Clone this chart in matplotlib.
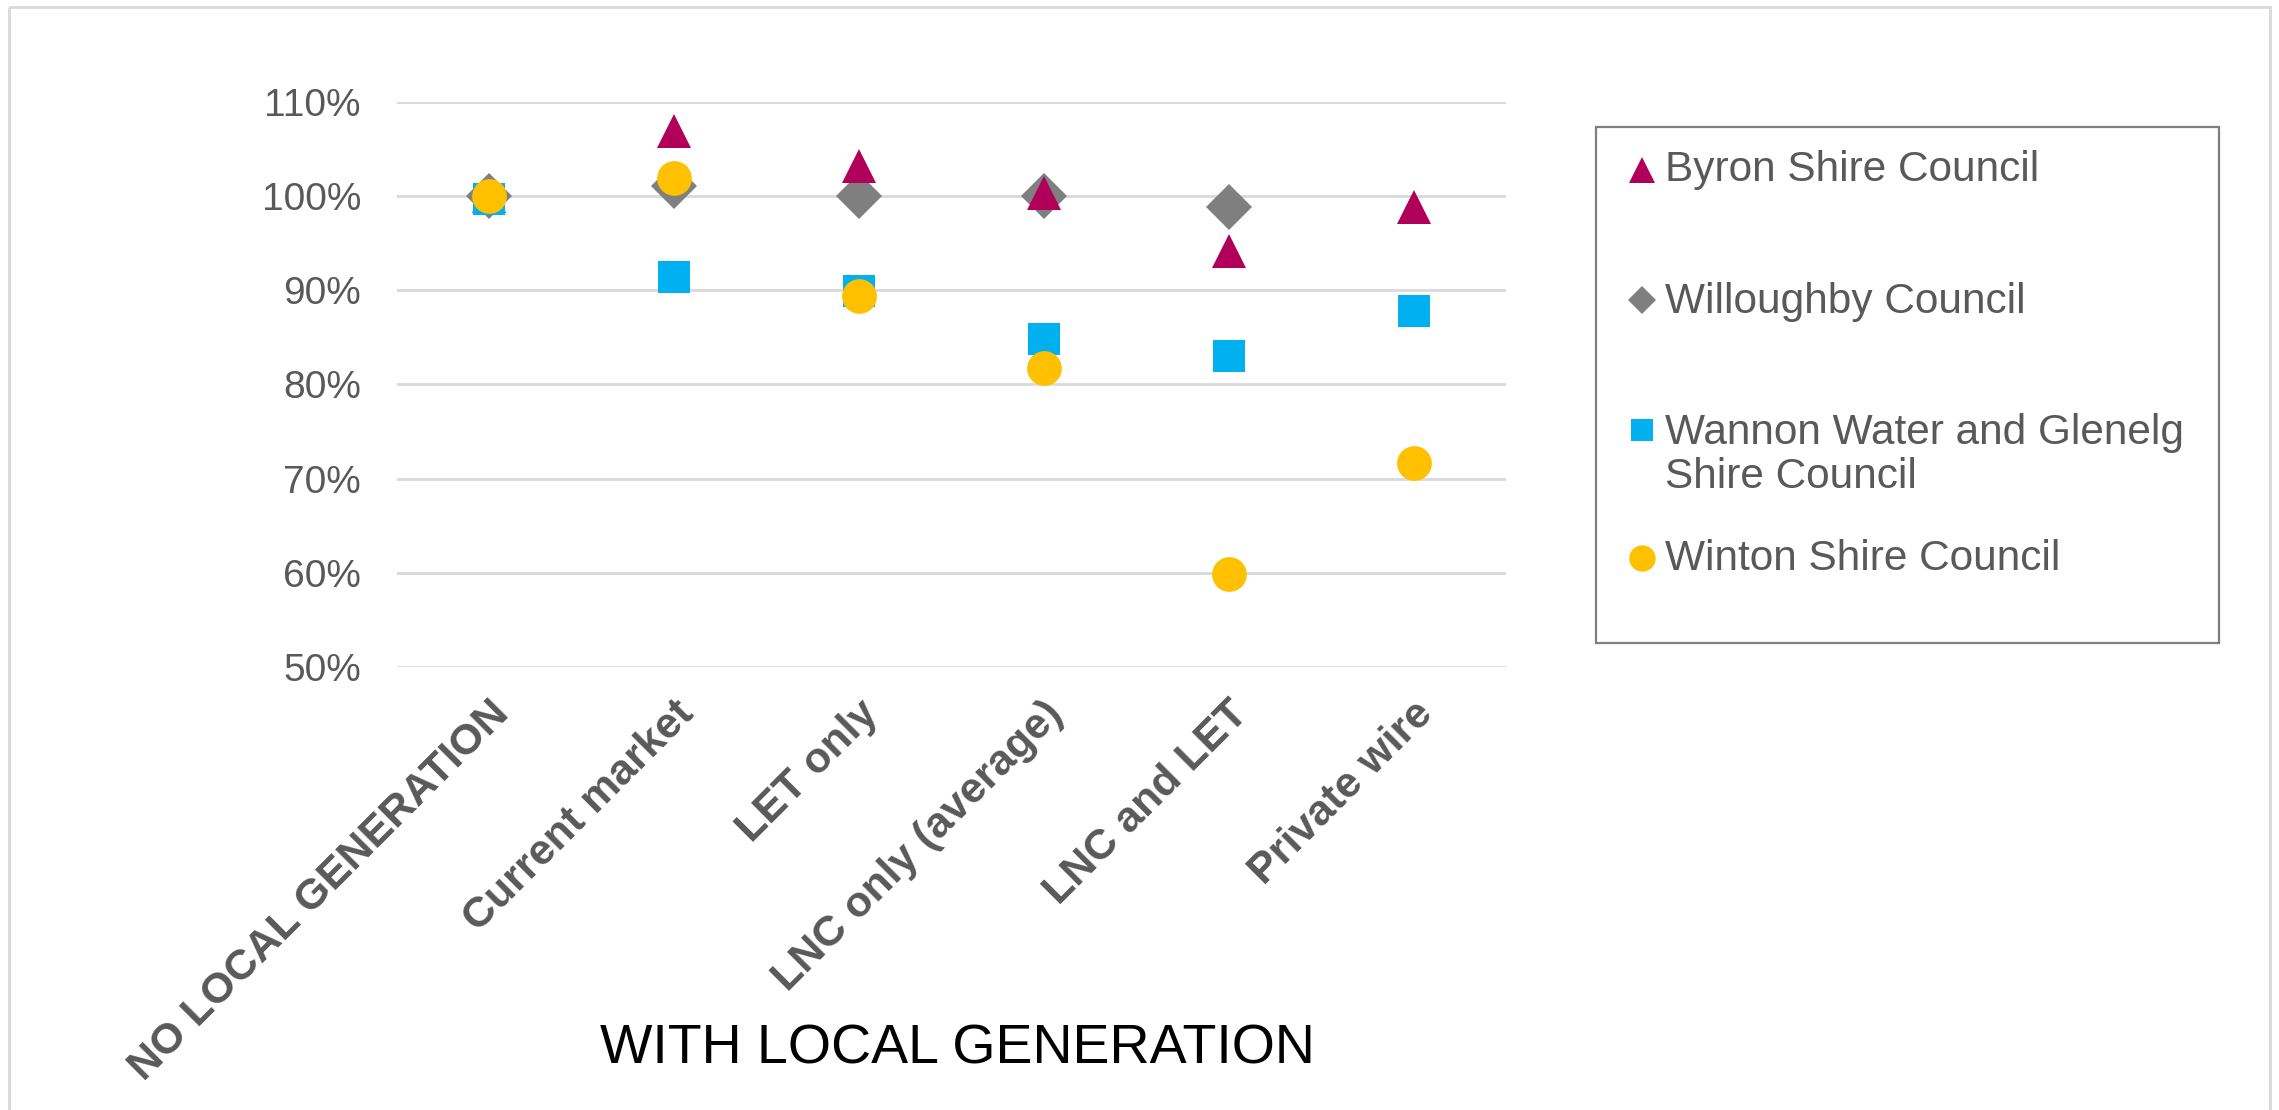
import numpy as np
import matplotlib
matplotlib.use("Agg")
import matplotlib.pyplot as plt
from matplotlib.patches import Rectangle
from matplotlib.transforms import ScaledTranslation

plt.rcParams['font.family'] = ['Liberation Sans', 'DejaVu Sans']

# ---- data -------------------------------------------------------------
categories = ["NO LOCAL GENERATION", "Current market", "LET only",
              "LNC only (average)", "LNC and LET", "Private wire"]

byron = [1.000, 1.070, 1.032, 1.004, 0.942, 0.989]
willoughby = [1.000, 1.011, 1.000, 1.000, 0.989, np.nan]
wannon = [0.997, 0.914, 0.899, 0.848, 0.830, 0.878]
winton = [1.001, 1.020, 0.894, 0.818, 0.598, 0.716]

series_names = ["Byron Shire Council", "Willoughby Council",
                "Wannon Water and Glenelg\nShire Council", "Winton Shire Council"]

yticks = [0.5, 0.6, 0.7, 0.8, 0.9, 1.0, 1.1]
ytick_labels = ["50%", "60%", "70%", "80%", "90%", "100%", "110%"]
x_title = "WITH LOCAL GENERATION"

# ---- styles -----------------------------------------------------------
GREY_TXT = "#595959"
GRID = "#d9d9d9"
styles = {
    "byron": dict(marker="^", ms=25, color="#b0005a"),
    "willoughby": dict(marker="D", ms=23, color="#7f7f7f"),
    "wannon": dict(marker="s", ms=23, color="#00b0f0"),
    "winton": dict(marker="o", ms=25, color="#ffc000"),
}

W, H = 2279, 1110
fig = plt.figure(figsize=(W / 100, H / 100), dpi=100)
fig.patch.set_facecolor("white")

# plot area
ax = fig.add_axes([397 / W, 1 - 667 / H, (1506 - 397) / W, (667 - 102) / H])
xpos = np.arange(len(categories))
ax.set_xlim(-0.5, len(categories) - 0.5)
ax.set_ylim(0.4995, 1.1005)
for sp in ax.spines.values():
    sp.set_visible(False)

ax.set_yticks(yticks)
ax.set_yticklabels(ytick_labels)
ax.yaxis.grid(True, color=GRID, lw=2.0)
ax.set_axisbelow(True)
ax.tick_params(axis="y", length=0, pad=26, labelsize=28, labelcolor=GREY_TXT)

ax.set_xticks(xpos)
ax.set_xticklabels(categories, rotation=45, ha="right", va="top",
                   rotation_mode="anchor", fontsize=31, fontweight="bold",
                   color=GREY_TXT)
ax.tick_params(axis="x", length=0, pad=19)
shift = ScaledTranslation(-1 / 100, 0, fig.dpi_scale_trans)
for lbl in ax.get_xticklabels():
    lbl.set_transform(lbl.get_transform() + shift)

# series (drawing order keeps the diamonds beneath the other markers)
order = [("willoughby", willoughby, 2), ("byron", byron, 3),
         ("wannon", wannon, 4), ("winton", winton, 5)]
for key, vals, z in order:
    st = styles[key]
    ax.plot(xpos, vals, linestyle="none", marker=st["marker"], ms=st["ms"],
            color=st["color"], mew=0, clip_on=False, zorder=z)

# ---- overlay in pixel coordinates for legend, title and frame ----------
ov = fig.add_axes([0, 0, 1, 1], zorder=10)
ov.set_xlim(0, W)
ov.set_ylim(H, 0)
ov.axis("off")
ov.patch.set_alpha(0)

# outer chart border
ov.add_patch(Rectangle((9, 7), W - 18, H + 20, fill=False, ec=GRID, lw=2.0,
                       clip_on=False))

# x-axis title
ov.text(957, 1050, x_title, ha="center", va="center", fontsize=40,
        color="black")

# legend box
ov.add_patch(Rectangle((1596, 127), 623, 516, fill=False, ec="#7f7f7f",
                       lw=1.6))
legend_rows = [
    ("byron", 170, 170, 19),
    ("willoughby", 300, 302, 14),
    ("wannon", 430, 455, 16),
    ("winton", 558, 559, 19),
]
for (key, my, ty, ms), name in zip(legend_rows, series_names):
    st = styles[key]
    ov.plot([1642], [my], linestyle="none", marker=st["marker"], ms=ms,
            color=st["color"], mew=0)
    ov.text(1665, ty, name, ha="left", va="center", fontsize=30.5,
            color=GREY_TXT, linespacing=1.15)

fig.savefig("out.png", dpi=100, facecolor="white")
